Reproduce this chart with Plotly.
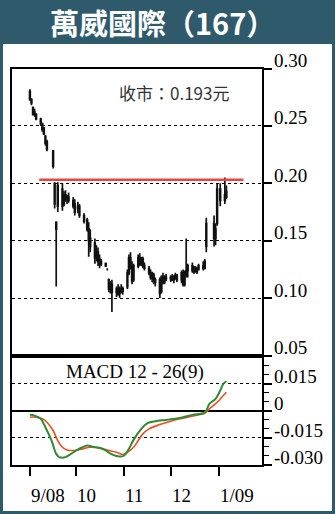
import plotly.graph_objects as go

# ---------------- data ----------------
dates = [
    "2008-09-01", "2008-09-02", "2008-09-03", "2008-09-04", "2008-09-05",
    "2008-09-08", "2008-09-09", "2008-09-10", "2008-09-11", "2008-09-12",
    "2008-09-16", "2008-09-17", "2008-09-18", "2008-09-19",
    "2008-09-22", "2008-09-23", "2008-09-24", "2008-09-25", "2008-09-26",
    "2008-09-29", "2008-09-30",
    "2008-10-02", "2008-10-03", "2008-10-06", "2008-10-08", "2008-10-09", "2008-10-10",
    "2008-10-13", "2008-10-14", "2008-10-15", "2008-10-16", "2008-10-17",
    "2008-10-20", "2008-10-21", "2008-10-22", "2008-10-23", "2008-10-24",
    "2008-10-27", "2008-10-28", "2008-10-29", "2008-10-30", "2008-10-31",
    "2008-11-03", "2008-11-04", "2008-11-05", "2008-11-06", "2008-11-07",
    "2008-11-10", "2008-11-11", "2008-11-12", "2008-11-13", "2008-11-14",
    "2008-11-17", "2008-11-18", "2008-11-19", "2008-11-20", "2008-11-21",
    "2008-11-24", "2008-11-25", "2008-11-26", "2008-11-27", "2008-11-28",
    "2008-12-01", "2008-12-02", "2008-12-03", "2008-12-04", "2008-12-05",
    "2008-12-08", "2008-12-09", "2008-12-10", "2008-12-11", "2008-12-12",
    "2008-12-15", "2008-12-16", "2008-12-17", "2008-12-18", "2008-12-19",
    "2008-12-22", "2008-12-23", "2008-12-24", "2008-12-29", "2008-12-30", "2008-12-31",
    "2009-01-02", "2009-01-05", "2009-01-06",
]
opens = [
    0.280, 0.273, 0.266, 0.262, 0.260,
    0.256, 0.252, 0.248, 0.241, 0.236,
    0.228, 0.200, 0.166, 0.180,
    0.195, 0.182, 0.190, 0.186, 0.188,
    0.185, 0.182,
    0.178, 0.180, 0.172, 0.168, 0.160, 0.152,
    0.148, 0.140, 0.140, 0.134, 0.132,
    0.130, 0.125, 0.116, 0.108, 0.112,
    0.105, 0.108, 0.104, 0.108, 0.106,
    0.110, 0.122, 0.135, 0.128, 0.116,
    0.128, 0.135, 0.130, 0.134, 0.128,
    0.126, 0.122, 0.118, 0.120, 0.114,
    0.116, 0.106, 0.118, 0.114, 0.118,
    0.117, 0.118, 0.116, 0.119, 0.120,
    0.116, 0.122, 0.112, 0.121, 0.124,
    0.128, 0.124, 0.126, 0.123, 0.125,
    0.128, 0.126, 0.145, 0.165, 0.152, 0.165,
    0.195, 0.185, 0.188,
]
highs = [
    0.282, 0.274, 0.267, 0.265, 0.261,
    0.257, 0.253, 0.249, 0.242, 0.238,
    0.229, 0.201, 0.167, 0.201,
    0.200, 0.193, 0.194, 0.190, 0.192,
    0.188, 0.186,
    0.184, 0.182, 0.174, 0.170, 0.166, 0.160,
    0.152, 0.146, 0.144, 0.138, 0.134,
    0.131, 0.126, 0.117, 0.115, 0.116,
    0.110, 0.112, 0.110, 0.112, 0.110,
    0.125, 0.138, 0.140, 0.132, 0.130,
    0.138, 0.139, 0.136, 0.136, 0.131,
    0.128, 0.125, 0.123, 0.122, 0.118,
    0.118, 0.120, 0.122, 0.120, 0.121,
    0.120, 0.121, 0.120, 0.122, 0.121,
    0.124, 0.125, 0.124, 0.152, 0.130,
    0.131, 0.128, 0.128, 0.127, 0.130,
    0.132, 0.134, 0.170, 0.172, 0.165, 0.200,
    0.200, 0.205, 0.198,
]
lows = [
    0.272, 0.268, 0.259, 0.258, 0.255,
    0.250, 0.245, 0.242, 0.233, 0.228,
    0.213, 0.178, 0.110, 0.175,
    0.176, 0.180, 0.184, 0.182, 0.183,
    0.178, 0.172,
    0.174, 0.170, 0.165, 0.158, 0.136, 0.140,
    0.130, 0.132, 0.128, 0.126, 0.128,
    0.127, 0.124, 0.105, 0.104, 0.088,
    0.101, 0.102, 0.100, 0.104, 0.103,
    0.108, 0.120, 0.125, 0.112, 0.114,
    0.126, 0.128, 0.128, 0.126, 0.124,
    0.120, 0.116, 0.114, 0.112, 0.110,
    0.100, 0.104, 0.112, 0.112, 0.115,
    0.114, 0.115, 0.113, 0.116, 0.114,
    0.113, 0.110, 0.110, 0.118, 0.118,
    0.122, 0.121, 0.122, 0.121, 0.124,
    0.124, 0.125, 0.140, 0.145, 0.146, 0.163,
    0.180, 0.182, 0.186,
]
closes = [
    0.273, 0.270, 0.260, 0.260, 0.256,
    0.252, 0.247, 0.243, 0.235, 0.230,
    0.215, 0.182, 0.160, 0.198,
    0.180, 0.190, 0.186, 0.188, 0.185,
    0.180, 0.175,
    0.180, 0.172, 0.167, 0.160, 0.150, 0.145,
    0.135, 0.138, 0.132, 0.130, 0.130,
    0.128, 0.125, 0.108, 0.112, 0.105,
    0.108, 0.104, 0.108, 0.106, 0.108,
    0.122, 0.135, 0.128, 0.115, 0.128,
    0.135, 0.130, 0.134, 0.128, 0.126,
    0.122, 0.118, 0.120, 0.114, 0.116,
    0.104, 0.118, 0.114, 0.118, 0.117,
    0.118, 0.116, 0.119, 0.120, 0.116,
    0.122, 0.112, 0.121, 0.124, 0.128,
    0.124, 0.126, 0.123, 0.125, 0.128,
    0.126, 0.132, 0.165, 0.152, 0.160, 0.195,
    0.185, 0.190, 0.193,
]

resistance_level = 0.203
resistance_dates = ["2008-09-07", "2009-01-17"]

macd_dates = [
    "2008-09-01", "2008-09-04", "2008-09-08", "2008-09-11", "2008-09-15", "2008-09-18",
    "2008-09-20", "2008-09-24", "2008-09-27", "2008-10-01", "2008-10-05", "2008-10-08",
    "2008-10-11", "2008-10-16", "2008-10-20", "2008-10-24", "2008-10-29", "2008-11-01",
    "2008-11-04", "2008-11-07", "2008-11-12", "2008-11-16", "2008-11-21", "2008-11-28",
    "2008-12-05", "2008-12-09", "2008-12-15", "2008-12-22", "2008-12-24", "2008-12-26",
    "2008-12-30", "2009-01-02", "2009-01-04", "2009-01-06",
]
macd_values = [
    -0.0024, -0.0028, -0.0046, -0.0093, -0.0167, -0.0241,
    -0.0259, -0.0259, -0.0244, -0.0222, -0.0204, -0.0195,
    -0.0200, -0.0207, -0.0222, -0.0244, -0.0256, -0.0250,
    -0.0213, -0.0163, -0.0102, -0.0070, -0.0059, -0.0052,
    -0.0044, -0.0037, -0.0024, -0.0015, 0.0000, 0.0037,
    0.0065, 0.0111, 0.0148, 0.0163,
]
signal_dates = [
    "2008-09-01", "2008-09-05", "2008-09-09", "2008-09-12", "2008-09-16", "2008-09-19",
    "2008-09-22", "2008-09-25", "2008-09-30", "2008-10-05", "2008-10-10", "2008-10-16",
    "2008-10-22", "2008-10-27", "2008-10-31", "2008-11-03", "2008-11-07", "2008-11-10",
    "2008-11-13", "2008-11-17", "2008-11-24", "2008-12-01", "2008-12-07", "2008-12-14",
    "2008-12-20", "2008-12-23", "2008-12-26", "2008-12-31", "2009-01-03", "2009-01-06",
]
signal_values = [
    -0.0037, -0.0037, -0.0046, -0.0065, -0.0111, -0.0167,
    -0.0204, -0.0219, -0.0222, -0.0213, -0.0204, -0.0209,
    -0.0222, -0.0232, -0.0244, -0.0232, -0.0204, -0.0167,
    -0.0130, -0.0102, -0.0078, -0.0059, -0.0046, -0.0033,
    -0.0022, -0.0015, 0.0009, 0.0046, 0.0074, 0.0102,
]

price_ticks = [0.30, 0.25, 0.20, 0.15, 0.10, 0.05]
price_labels = ["0.30", "0.25", "0.20", "0.15", "0.10", "0.05"]
macd_ticks = [0.015, 0.0, -0.015, -0.030]
macd_labels = ["0.015", "0", "-0.015", "-0.030"]
month_ticks = ["2008-09-01", "2008-10-01", "2008-11-01", "2008-12-01", "2009-01-01"]
month_labels = ["9/08", "10", "11", "12", "1/09"]

title_text = "萬威國際（167）"
close_text = "收市：0.193元"
macd_title = "MACD 12 - 26(9)"

# ---------------- figure ----------------
W, H = 335, 514
TEAL = "#2f5a6b"
SERIF = "Liberation Serif, Times New Roman, serif"
CJK = "Noto Sans CJK TC, Noto Sans, sans-serif"

def fy(px):
    return 1 - px / H

def fx(px):
    return px / W

xdom = [fx(12), fx(262)]
fig = go.Figure()

fig.add_trace(go.Candlestick(
    x=dates, open=opens, high=highs, low=lows, close=closes,
    increasing=dict(line=dict(color="#111111", width=1.7), fillcolor="#111111"),
    decreasing=dict(line=dict(color="#111111", width=1.7), fillcolor="#111111"),
    whiskerwidth=0, showlegend=False, hoverinfo="skip",
    xaxis="x", yaxis="y",
))
fig.add_trace(go.Scatter(
    x=resistance_dates, y=[resistance_level, resistance_level], mode="lines",
    line=dict(color="#e8463c", width=2.5), showlegend=False, hoverinfo="skip",
    xaxis="x", yaxis="y",
))
fig.add_trace(go.Scatter(
    x=signal_dates, y=signal_values, mode="lines",
    line=dict(color="#ec4e24", width=1.6, shape="spline"),
    showlegend=False, hoverinfo="skip", xaxis="x2", yaxis="y2",
))
fig.add_trace(go.Scatter(
    x=macd_dates, y=macd_values, mode="lines",
    line=dict(color="#2f8a35", width=2, shape="spline"),
    showlegend=False, hoverinfo="skip", xaxis="x2", yaxis="y2",
))

xrange = ["2008-08-20 10:00", "2009-01-29"]
fig.update_layout(
    width=W, height=H,
    margin=dict(l=0, r=0, t=0, b=0),
    paper_bgcolor=TEAL, plot_bgcolor="white",
    xaxis=dict(domain=xdom, anchor="y", type="date", range=xrange,
               showticklabels=False, ticks="", showgrid=False, zeroline=False,
               showline=True, mirror=True, linecolor="black", linewidth=1.5,
               rangeslider=dict(visible=False)),
    yaxis=dict(domain=[fy(355.5), fy(68.5)], anchor="x", range=[0.05, 0.30],
               side="right", tickvals=price_ticks, showticklabels=False,
               ticks="outside", ticklen=8, tickwidth=1.5, tickcolor="black",
               showgrid=True, gridcolor="black", griddash="dot", gridwidth=1,
               zeroline=False, showline=True, mirror=True,
               linecolor="black", linewidth=1.5),
    xaxis2=dict(domain=xdom, anchor="y2", type="date", range=xrange, matches="x",
                tickvals=month_ticks, showticklabels=False,
                ticks="outside", ticklen=10, tickwidth=1.5, tickcolor="black",
                showgrid=False, zeroline=False, showline=True, mirror=True,
                linecolor="black", linewidth=1.5),
    yaxis2=dict(domain=[fy(464.5), fy(355.5)], anchor="x2", range=[-0.030, 0.0306],
                side="right", tickvals=macd_ticks, showticklabels=False,
                ticks="outside", ticklen=8, tickwidth=1.5, tickcolor="black",
                minor=dict(dtick=0.005, tick0=0, ticks="outside", ticklen=5,
                           tickcolor="black", tickwidth=1, showgrid=False),
                showgrid=True, gridcolor="black", griddash="dot", gridwidth=1,
                zeroline=True, zerolinecolor="black", zerolinewidth=1.5,
                showline=True, mirror=True, linecolor="black", linewidth=1.5),
    shapes=[dict(type="rect", xref="paper", yref="paper",
                 x0=fx(3), x1=fx(332), y0=fy(511), y1=fy(44),
                 fillcolor="white", line=dict(width=0), layer="below")],
)

ann = []
ann.append(dict(text="<b>" + title_text + "</b>", xref="paper", yref="paper",
                x=fx(162), y=fy(22), xanchor="center", yanchor="middle",
                showarrow=False, borderpad=0,
                font=dict(family=CJK, size=29, color="white")))
ann.append(dict(text=close_text, xref="paper", yref="paper",
                x=fx(117), y=fy(92), xanchor="left", yanchor="middle",
                showarrow=False, font=dict(family=CJK, size=17, color="#333333")))
ann.append(dict(text=macd_title, xref="paper", yref="paper",
                x=fx(135), y=fy(372), xanchor="center", yanchor="middle",
                showarrow=False, font=dict(family=SERIF, size=19, color="black")))
for v, t in zip(price_ticks, price_labels):
    ann.append(dict(text=t, xref="paper", yref="y", x=fx(272), y=v,
                    xanchor="left", yanchor="middle", yshift=8, showarrow=False,
                    font=dict(family=SERIF, size=19, color="black")))
for v, t in zip(macd_ticks, macd_labels):
    ann.append(dict(text=t, xref="paper", yref="y2", x=fx(272), y=v,
                    xanchor="left", yanchor="middle", yshift=7, showarrow=False,
                    font=dict(family=SERIF, size=19, color="black")))
for d, t in zip(month_ticks, month_labels):
    ann.append(dict(text=t, xref="x2", yref="paper", x=d, y=fy(495),
                    xanchor="left", yanchor="middle", xshift=-1, showarrow=False,
                    font=dict(family=SERIF, size=19, color="black")))
fig.update_layout(annotations=ann)

fig.write_html("out.html")
